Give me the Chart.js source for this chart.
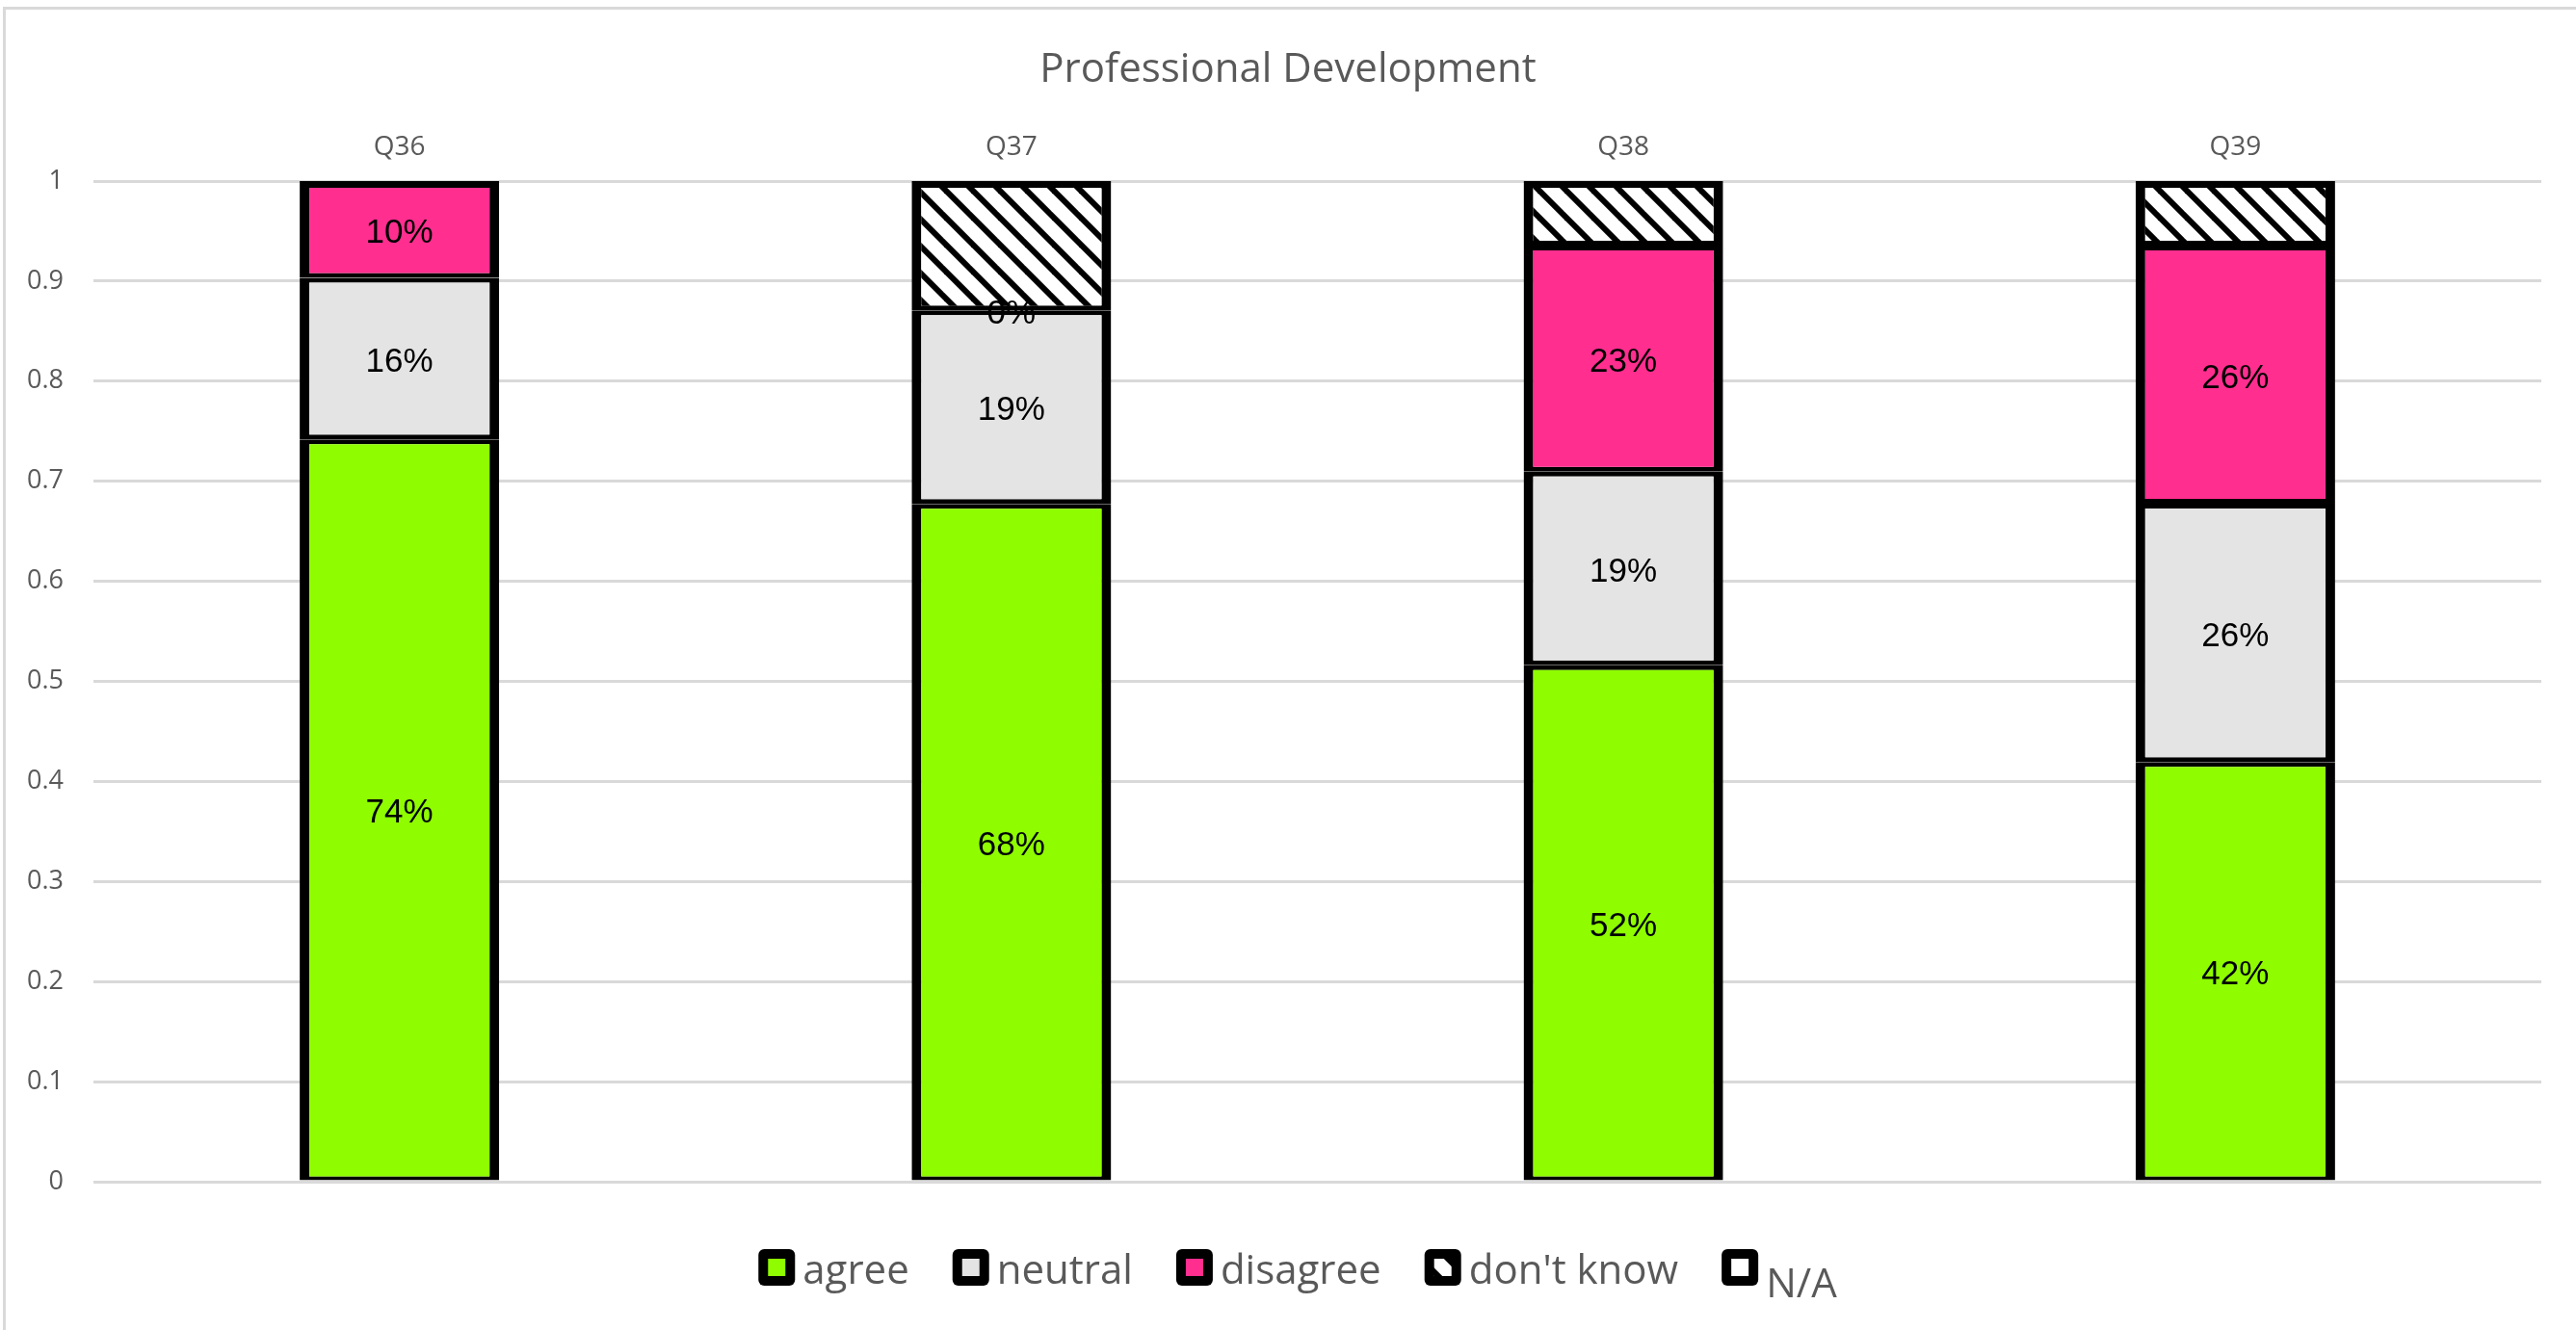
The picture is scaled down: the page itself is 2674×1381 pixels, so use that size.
<!DOCTYPE html>
<html>
<head>
<meta charset="utf-8">
<script src="https://cdn.jsdelivr.net/npm/chart.js@4.4.1/dist/chart.umd.min.js"></script>
<style>
  html, body { margin: 0; padding: 0; background: #ffffff; }
  #wrap { position: relative; width: 2674px; height: 1381px; }
</style>
</head>
<body>
<div id="wrap"><canvas id="c"></canvas></div>
<script>
// ---- data ----
const categories = ['Q36', 'Q37', 'Q38', 'Q39'];
const seriesNames = ['agree', 'neutral', 'disagree', "don't know", 'N/A'];
const agree     = [0.7419, 0.6774, 0.5161, 0.4194];
const neutral   = [0.1613, 0.1935, 0.1935, 0.2581];
const disagree  = [0.0968, 0.0000, 0.2258, 0.2581];
const dontKnow  = [0.0000, 0.1290, 0.0645, 0.0645];
const notApplic = [0, 0, 0, 0];
const yTickLabels = ['0', '0.1', '0.2', '0.3', '0.4', '0.5', '0.6', '0.7', '0.8', '0.9', '1'];
const chartTitle = 'Professional Development';

// ---- styles ----
const GRAY_TEXT = '#595959';
const GRID = '#d9d9d9';

function makeHatch() {
  const s = 28;
  const pc = document.createElement('canvas');
  pc.width = s; pc.height = s;
  const p = pc.getContext('2d');
  p.fillStyle = '#ffffff';
  p.fillRect(0, 0, s, s);
  p.strokeStyle = '#000000';
  p.lineWidth = 6;
  p.lineCap = 'square';
  for (const off of [-s, 0, s]) {
    p.beginPath();
    p.moveTo(off, 0);
    p.lineTo(off + s, s);
    p.stroke();
  }
  return p.createPattern(pc, 'repeat');
}

function build() {
  const ctx = document.getElementById('c').getContext('2d');
  const hatch = makeHatch();

  const seriesValues = [agree, neutral, disagree, dontKnow, notApplic];
  const fills = ['#8FFC00', '#E4E4E4', '#FF2E8F', hatch, '#FFFFFF'];
  const showLabel = [true, true, true, false, false];

  function topmostIndex(i) {
    let t = 0;
    seriesValues.forEach((arr, d) => { if (arr[i] > 0) t = d; });
    return t;
  }

  const datasets = seriesNames.map((name, d) => ({
    label: name,
    data: seriesValues[d],
    backgroundColor: fills[d],
    borderColor: '#000000',
    borderSkipped: false,
    borderWidth: (c) => {
      const i = c.dataIndex;
      const top = (i !== undefined && topmostIndex(i) === d) ? 7 : 5;
      const bottom = d === 0 ? 4 : 5;
      return { left: 10, right: 10, top: top, bottom: bottom };
    },
    showPct: showLabel[d],
    barPercentage: 0.326,
    categoryPercentage: 1.0
  }));

  const framePlugin = {
    id: 'frame',
    beforeDraw(chart) {
      const c = chart.ctx;
      c.save();
      c.fillStyle = '#ffffff';
      c.fillRect(0, 0, chart.width, chart.height);
      c.fillStyle = GRID;
      c.fillRect(3, 7, chart.width, 3);
      c.fillRect(3, 7, 3, chart.height);
      c.restore();
    }
  };

  const labelPlugin = {
    id: 'pctLabels',
    afterDatasetsDraw(chart) {
      const c = chart.ctx;
      c.save();
      c.font = '35px "Liberation Sans", Arial, sans-serif';
      c.fillStyle = '#000000';
      c.textAlign = 'center';
      c.textBaseline = 'middle';
      chart.data.datasets.forEach((ds, d) => {
        if (!ds.showPct) return;
        const meta = chart.getDatasetMeta(d);
        meta.data.forEach((el, i) => {
          const v = ds.data[i];
          if (v === null || v === undefined) return;
          const txt = Math.round(v * 100) + '%';
          c.fillText(txt, el.x, (el.y + el.base) / 2 + 4);
        });
      });
      c.restore();
    }
  };

  const legendPlugin = {
    id: 'customLegend',
    afterDraw(chart) {
      const c = chart.ctx;
      c.save();
      const font = '42px "Open Sans", sans-serif';
      c.font = font;
      const box = 38, gapText = 8, gapItem = 45;
      const items = chart.data.datasets.map(ds => ({ label: ds.label, fill: ds.backgroundColor, w: c.measureText(ds.label).width }));
      let total = 0;
      items.forEach((it, k) => { total += box + gapText + it.w + (k < items.length - 1 ? gapItem : 0); });
      let x = chart.width / 2 + 10 - total / 2;
      const boxTop = 1297;
      items.forEach((it, k) => {
        c.fillStyle = '#000000';
        c.beginPath();
        if (c.roundRect) c.roundRect(x, boxTop, box, box, 6); else c.rect(x, boxTop, box, box);
        c.fill();
        c.fillStyle = it.fill;
        c.fillRect(x + 10, boxTop + 10, box - 20, box - 20);
        c.fillStyle = GRAY_TEXT;
        c.textAlign = 'left';
        c.textBaseline = 'alphabetic';
        const baseline = (it.label === 'N/A') ? 1347 : 1333;
        c.fillText(it.label, x + box + gapText, baseline);
        x += box + gapText + it.w + gapItem;
      });
      c.restore();
    }
  };

  new Chart(ctx, {
    type: 'bar',
    data: { labels: categories, datasets: datasets },
    options: {
      responsive: true,
      maintainAspectRatio: false,
      animation: false,
      devicePixelRatio: 1,
      layout: { padding: { left: 0, right: 0, top: 0, bottom: 154 } },
      plugins: {
        legend: { display: false },
        tooltip: { enabled: false },
        title: {
          display: true,
          text: chartTitle,
          color: GRAY_TEXT,
          font: { family: '"Open Sans", sans-serif', size: 42, weight: 'normal' },
          padding: { top: 48, bottom: 10 }
        }
      },
      scales: {
        x: {
          position: 'top',
          stacked: true,
          grid: { display: false, drawTicks: false },
          border: { display: false },
          ticks: {
            color: GRAY_TEXT,
            font: { family: '"Open Sans", sans-serif', size: 28 },
            padding: 18
          },
          afterFit: (s) => { s.height = 79.6; }
        },
        y: {
          stacked: true,
          min: 0,
          max: 1,
          ticks: {
            stepSize: 0.1,
            color: GRAY_TEXT,
            font: { family: '"Open Sans", sans-serif', size: 27 },
            padding: 31,
            callback: (v, idx) => yTickLabels[idx]
          },
          grid: { color: GRID, lineWidth: 3, drawTicks: false },
          border: { display: false },
          afterFit: (s) => { s.width = 97; }
        },
        yRightSpace: {
          type: 'linear',
          position: 'right',
          display: true,
          grid: { display: false, drawTicks: false },
          border: { display: false },
          ticks: { display: false },
          afterFit: (s) => { s.width = 36; }
        }
      }
    },
    plugins: [framePlugin, labelPlugin, legendPlugin]
  });
}

const fontLoads = [
  document.fonts.load('42px "Open Sans"'),
  document.fonts.load('35px "Liberation Sans"')
];
Promise.all(fontLoads).then(build, build);
</script>
</body>
</html>
